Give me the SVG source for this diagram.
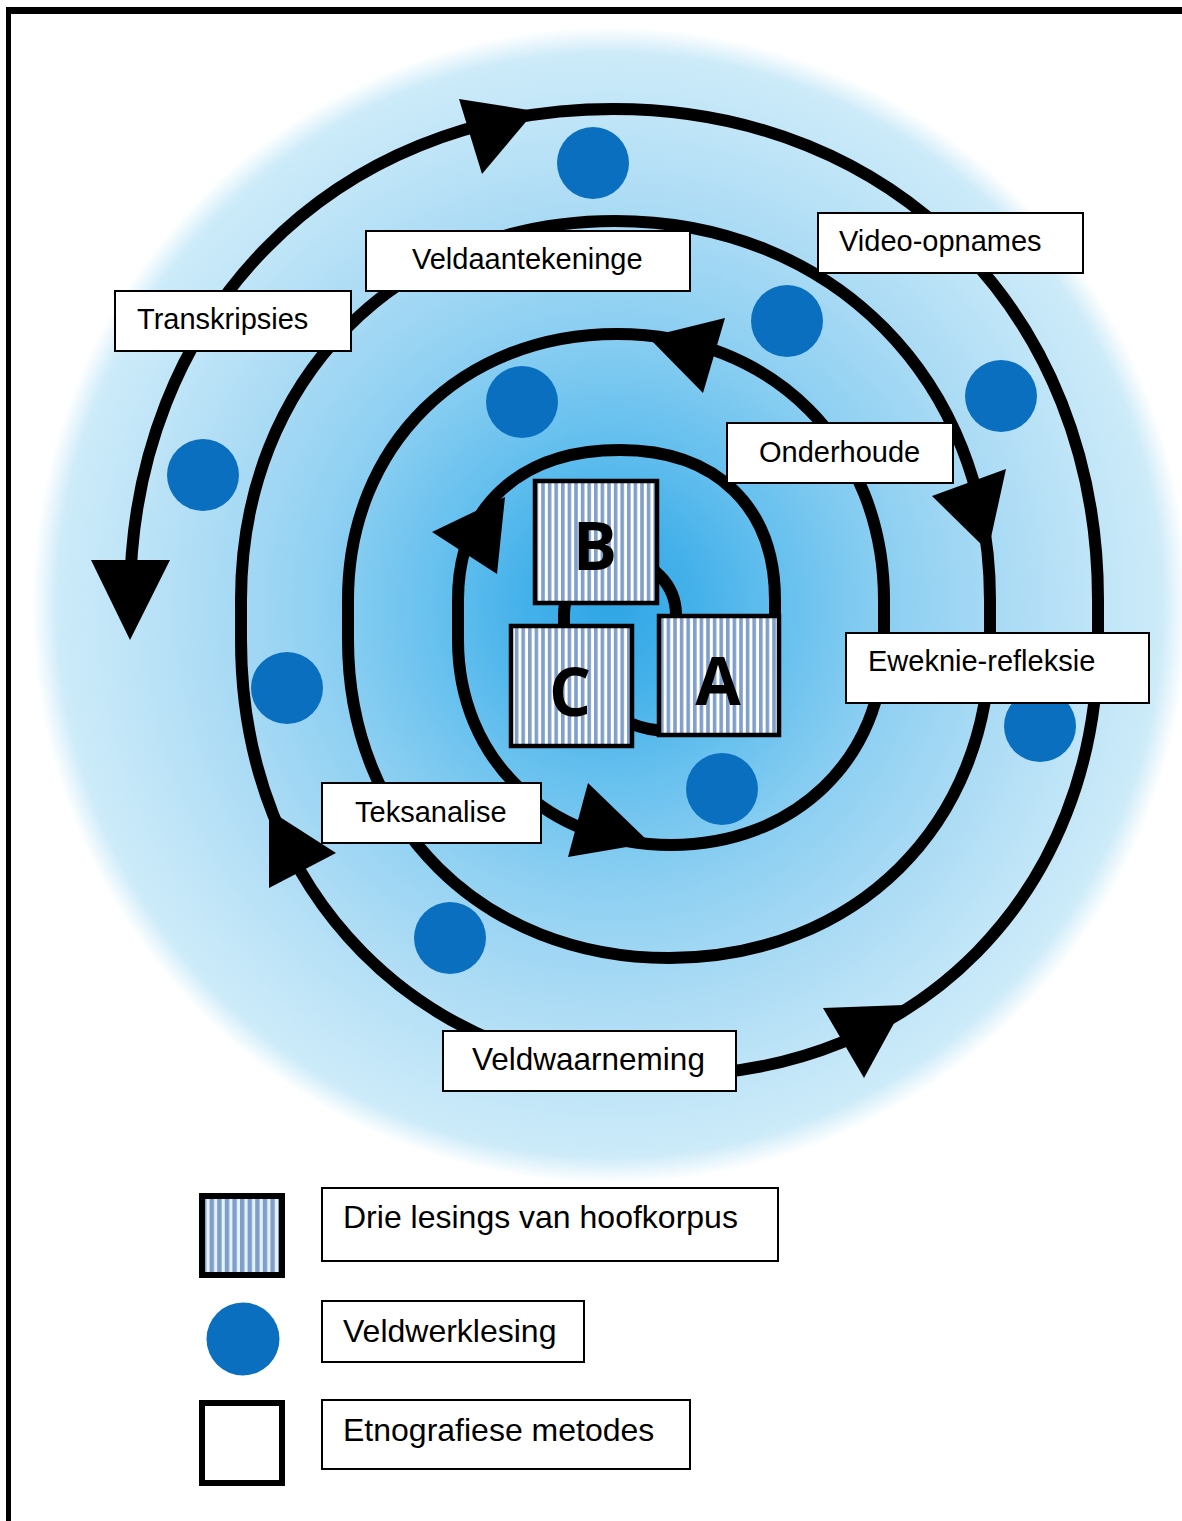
<svg xmlns="http://www.w3.org/2000/svg" width="1182" height="1521" viewBox="0 0 1182 1521">
<defs>
<radialGradient id="bg" gradientUnits="userSpaceOnUse" cx="610" cy="605" r="578">
<stop offset="0" stop-color="#2fa6e6"/>
<stop offset="0.15" stop-color="#45b1ea"/>
<stop offset="0.3" stop-color="#66c0ee"/>
<stop offset="0.5" stop-color="#8fd0f2"/>
<stop offset="0.7" stop-color="#addcf5"/>
<stop offset="0.88" stop-color="#c4e7f8"/>
<stop offset="0.955" stop-color="#cdebf9"/>
<stop offset="1" stop-color="#ffffff"/>
</radialGradient>
<pattern id="hatch" patternUnits="userSpaceOnUse" width="6.6" height="10">
<rect width="6.6" height="10" fill="#ffffff"/>
<rect width="3.6" height="10" fill="#809fcb"/>
</pattern>
<pattern id="hatch2" patternUnits="userSpaceOnUse" x="202" width="7.6" height="10">
<rect width="7.6" height="10" fill="#e4f2fb"/>
<rect width="4.4" height="10" fill="#7f9fca"/>
</pattern>
<style>
.lbl rect{fill:#fff;stroke:#000;stroke-width:2}
.lbl text{font-family:"Liberation Sans",Arial,sans-serif;font-size:29px;fill:#000}
.big text{font-size:32px}
.dot{fill:#0a6fbe}
.box rect{fill:url(#hatch);stroke:#000;stroke-width:4.5}
.box text{font-family:"Open Sans","DejaVu Sans",sans-serif;font-weight:bold;font-size:66px;fill:#000;text-anchor:middle}
.arrow{fill:#000}
</style>
</defs>
<rect width="1182" height="1521" fill="#fff"/>
<circle cx="610" cy="605" r="578" fill="url(#bg)"/>
<rect x="6" y="7" width="1176" height="7" fill="#000"/>
<rect x="6" y="7" width="5" height="1514" fill="#000"/>

<g id="connectors">
<path fill="none" stroke="#000" stroke-width="12" stroke-linejoin="round" d="M 676 640 L 676 615 C 676 584.1 650.9 559 620 559 C 589.1 559 564 584.1 564 615 L 564 625 C 564 683.5 611.5 731 670 731 C 728 731 775 683.5 775 625 L 775 600 C 775 507 716.1 450 620 450 C 519.6 450 458 507 458 600 L 458 640 C 458 758.9 547.5 845 671 845 C 794.5 845 884 758.9 884 640 L 884 600 C 884 445.7 771.9 334 617 334 C 461 334 348 445.7 348 600 L 348 640 C 348 824.4 482.8 958 669 958 C 855.2 958 990 824.4 990 640 L 990 600 C 990 380.2 832.5 221 615 221 C 398.1 221 241 380.2 241 600 L 241 640 C 241 892.3 421.2 1075 670 1075 C 918.2 1075 1098 892.3 1098 640 L 1098 600 C 1098 315.2 894.3 109 613 109 C 332.9 109 130 315.2 130 600"/>
<polygon class="arrow" points="130,640 91,560 170,560"/>
<polygon class="arrow" points="535,111 459,99 482,174"/>
<polygon class="arrow" points="648,337 725,318 703,393"/>
<polygon class="arrow" points="988,551 932,496 1006,469"/>
<polygon class="arrow" points="505,497 432,532 497,574"/>
<polygon class="arrow" points="650,843 588,783 568,857"/>
<polygon class="arrow" points="269,810 336,853 269,888"/>
<polygon class="arrow" points="904,1005 823,1008 864,1078"/>
</g>

<g id="dots">
<circle class="dot" cx="593" cy="163" r="36"/>
<circle class="dot" cx="787" cy="321" r="36"/>
<circle class="dot" cx="1001" cy="396" r="36"/>
<circle class="dot" cx="522" cy="402" r="36"/>
<circle class="dot" cx="203" cy="475" r="36"/>
<circle class="dot" cx="287" cy="688" r="36"/>
<circle class="dot" cx="1040" cy="726" r="36"/>
<circle class="dot" cx="722" cy="789" r="36"/>
<circle class="dot" cx="450" cy="938" r="36"/>
</g>

<g id="box-B" class="box"><rect x="535" y="481" width="122" height="122"/><text x="595" y="570">B</text></g>
<g id="box-C" class="box"><rect x="511" y="626" width="121" height="120"/><text x="570" y="716">C</text></g>
<g id="box-A" class="box"><rect x="659" y="616" width="120" height="119"/><text x="718" y="705">A</text></g>

<g id="label-transkripsies" class="lbl"><rect x="115" y="291" width="236" height="60"/><text x="137" y="329">Transkripsies</text></g>
<g id="label-veldaantekeninge" class="lbl"><rect x="366" y="231" width="324" height="60"/><text x="412" y="269">Veldaantekeninge</text></g>
<g id="label-video" class="lbl"><rect x="818" y="213" width="265" height="60"/><text x="839" y="251">Video-opnames</text></g>
<g id="label-onderhoude" class="lbl"><rect x="727" y="423" width="226" height="60"/><text x="759" y="462">Onderhoude</text></g>
<g id="label-eweknie" class="lbl"><rect x="846" y="633" width="303" height="70"/><text x="868" y="671">Eweknie-refleksie</text></g>
<g id="label-teksanalise" class="lbl"><rect x="322" y="783" width="219" height="60"/><text x="355" y="822">Teksanalise</text></g>
<g id="label-veldwaarneming" class="lbl big"><rect x="443" y="1031" width="293" height="60"/><text x="472" y="1070" style="font-size:31.5px">Veldwaarneming</text></g>

<g id="legend-hatch"><rect x="202" y="1196" width="80" height="79" fill="url(#hatch2)" stroke="#000" stroke-width="6"/></g>
<g id="legend-hatch-label" class="lbl big"><rect x="322" y="1188" width="456" height="73"/><text x="343" y="1228">Drie lesings van hoofkorpus</text></g>
<g id="legend-dot"><circle class="dot" cx="243" cy="1339" r="36.5"/></g>
<g id="legend-dot-label" class="lbl big"><rect x="322" y="1301" width="262" height="61"/><text x="343" y="1342">Veldwerklesing</text></g>
<g id="legend-box"><rect x="202" y="1403" width="80" height="80" fill="#fff" stroke="#000" stroke-width="6"/></g>
<g id="legend-box-label" class="lbl big"><rect x="322" y="1400" width="368" height="69"/><text x="343" y="1441">Etnografiese metodes</text></g>
</svg>
